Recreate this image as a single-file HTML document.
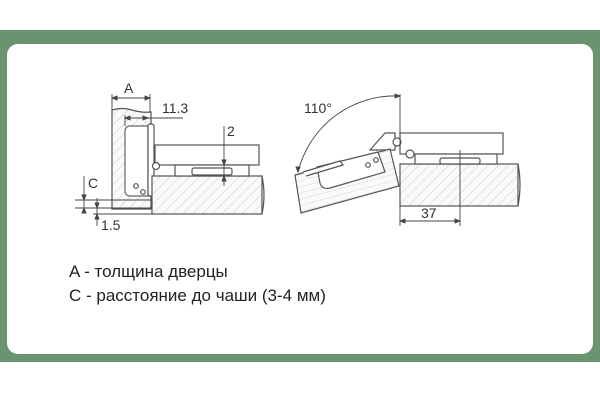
<!DOCTYPE html>
<html><head><meta charset="utf-8"><style>
html,body{margin:0;padding:0;background:#fff;}
svg{display:block;}
</style></head><body>
<svg width="600" height="400" viewBox="0 0 600 400" xmlns="http://www.w3.org/2000/svg">
<defs>
<pattern id="h" width="7" height="7" patternUnits="userSpaceOnUse" patternTransform="rotate(45)">
<rect width="7" height="7" fill="#fafafa"/><line x1="0" y1="0" x2="0" y2="7" stroke="#bbb" stroke-width="0.8"/>
</pattern>
<pattern id="hh" width="6" height="6" patternUnits="userSpaceOnUse" patternTransform="rotate(-15)">
<rect width="6" height="6" fill="#fafafa"/><line x1="0" y1="0" x2="6" y2="0" stroke="#ccc" stroke-width="0.8"/>
</pattern>
</defs>
<rect x="0" y="30" width="600" height="332" fill="#6a9470"/>
<rect x="7" y="44" width="586" height="310" rx="11" fill="#fff"/>
<g stroke="#555" stroke-width="1.2" fill="none">
<path d="M112,110 Q122,107 132,110 T151,112 L151,209 L112,209 Z" fill="url(#h)"/>
<path d="M130,126 L148,126 L148,196 L130,196 Q125,196 125,190 L125,132 Q125,126 130,126 Z" fill="#fff" stroke="#666"/>
<rect x="148" y="124" width="6" height="72" rx="2" fill="#fff"/>
<rect x="152" y="176" width="110" height="38" fill="url(#h)"/>
<path d="M262,176 Q266,195 262,214" />
<rect x="155" y="145" width="104" height="20" fill="#fff"/>
<rect x="175" y="165" width="74" height="11" fill="#fff"/>
<rect x="192" y="168" width="40" height="7" rx="2" fill="#fff"/>
<circle cx="156" cy="166" r="3.5" fill="#fff"/>
<circle cx="136" cy="186" r="2.3"/><circle cx="143" cy="192" r="2.3"/>
</g>
<g stroke="#444" stroke-width="0.9" fill="none">
<line x1="112" y1="94" x2="112" y2="110"/><line x1="150" y1="94" x2="150" y2="112"/>
<line x1="112" y1="98" x2="150" y2="98"/>
<path d="M112,98 l5,-2 v4z M150,98 l-5,-2 v4z" fill="#444"/>
<line x1="125" y1="118" x2="183" y2="118"/><line x1="125" y1="115" x2="125" y2="126"/>
<path d="M125,118 l5,-2 v4z M148,118 l-5,-2 v4z" fill="#444"/>
<line x1="224" y1="126" x2="224" y2="186"/>
<path d="M224,165 l-2,-5 h4z M224,176 l-2,5 h4z" fill="#444"/>
<line x1="84" y1="176" x2="84" y2="213"/><line x1="75" y1="200" x2="152" y2="200"/><line x1="75" y1="208" x2="152" y2="208"/>
<path d="M84,200 l-2,-5 h4z M84,208 l-2,5 h4z" fill="#444"/>
<line x1="97" y1="198" x2="97" y2="226"/><line x1="93" y1="214" x2="152" y2="214"/>
<path d="M97,208 l-2,-5 h4z M97,214 l-2,5 h4z" fill="#444"/>
</g>
<g stroke="#555" stroke-width="1.2" fill="none">
<rect x="400" y="164" width="118" height="42" fill="url(#h)"/>
<path d="M518,164 Q522,185 518,206"/>
<rect x="400" y="133" width="103" height="21" fill="#fff"/>
<rect x="415" y="154" width="82" height="10" fill="#fff"/>
<rect x="440" y="158" width="40" height="6" rx="2" fill="#fff"/>
<path d="M395,133 L385,133 L370,150 L395,150 Z" fill="#fff"/>
<circle cx="397" cy="142" r="4" fill="#fff"/>
<circle cx="410" cy="154" r="4" fill="#fff"/>
<path d="M295,175 L390,149 L399,186 L301,213 Z" fill="url(#hh)"/>
<path d="M317,167 L378,152 L385,172 L330,188 Q322,190 320,183 Z" fill="#fff"/>
<path d="M303,172 L340,161 L343,165 L306,176" fill="#fff"/>
<circle cx="368" cy="165" r="2.3"/><circle cx="376" cy="160" r="2.3"/>
</g>
<g stroke="#444" stroke-width="0.9" fill="none">
<line x1="400" y1="94" x2="400" y2="150"/>
<path d="M400,96 A100,100 0 0 0 298,172"/>
<path d="M400,96 l-5,-2 v4z M298,172 l-2,-5 l4,0z" fill="#444"/>
<line x1="400" y1="206" x2="400" y2="226"/><line x1="460" y1="150" x2="460" y2="226"/>
<line x1="400" y1="221" x2="460" y2="221"/>
<path d="M400,221 l5,-2 v4z M460,221 l-5,-2 v4z" fill="#444"/>
</g>
<g font-family="Liberation Sans, DejaVu Sans, sans-serif" fill="#333" font-size="14">
<text x="124" y="93">A</text>
<text x="162" y="113">11.3</text>
<text x="227" y="136">2</text>
<text x="88" y="188">C</text>
<text x="101" y="230">1.5</text>
<text x="304" y="113">110°</text>
<text x="421" y="218">37</text>
</g>
<g font-family="Liberation Sans, DejaVu Sans, sans-serif" fill="#222" font-size="17">
<text x="69" y="277">A - толщина дверцы</text>
<text x="69" y="301">C - расстояние до чаши (3-4 мм)</text>
</g>
</svg>
</body></html>
